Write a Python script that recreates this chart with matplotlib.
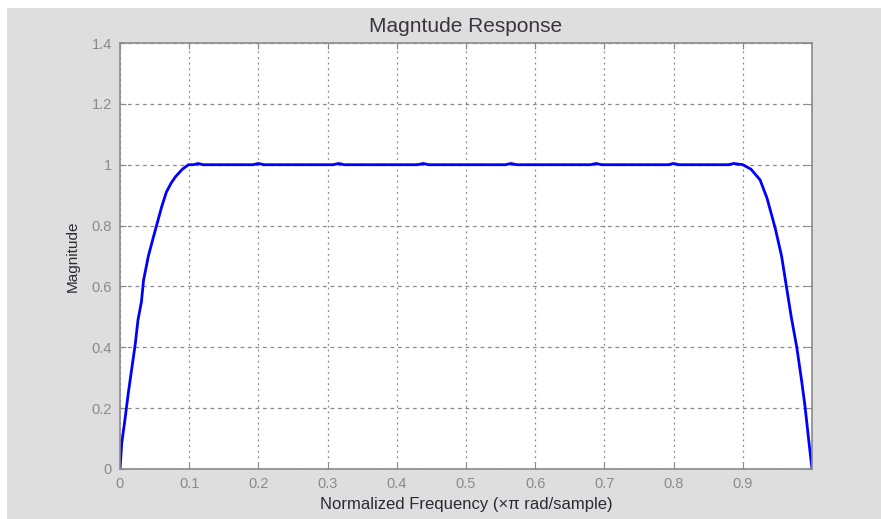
import matplotlib.pyplot as plt
from matplotlib.patches import Rectangle

# normalized frequency (x pi rad/sample) and magnitude
freq = [0.0, 0.0025, 0.007, 0.012, 0.017, 0.022, 0.026, 0.031, 0.034, 0.041,
        0.048, 0.054, 0.06, 0.067, 0.074, 0.08, 0.09, 0.099,
        0.106, 0.113, 0.12, 0.192, 0.2, 0.208, 0.308, 0.316, 0.324,
        0.43, 0.438, 0.446, 0.557, 0.565, 0.573, 0.68, 0.688, 0.696,
        0.792, 0.8, 0.808, 0.879, 0.887, 0.9,
        0.912, 0.925, 0.935, 0.947, 0.956, 0.963, 0.97, 0.978, 0.985,
        0.99, 0.995, 1.0]
mag = [0.0, 0.085, 0.16, 0.25, 0.33, 0.41, 0.49, 0.55, 0.62, 0.70,
       0.76, 0.81, 0.86, 0.91, 0.94, 0.96, 0.985, 1.0,
       1.0, 1.004, 1.0, 1.0, 1.004, 1.0, 1.0, 1.004, 1.0,
       1.0, 1.004, 1.0, 1.0, 1.004, 1.0, 1.0, 1.004, 1.0,
       1.0, 1.004, 1.0, 1.0, 1.004, 1.0,
       0.985, 0.95, 0.89, 0.79, 0.70, 0.60, 0.50, 0.40, 0.29,
       0.204, 0.10, 0.0]

xticks = [0, 0.1, 0.2, 0.3, 0.4, 0.5, 0.6, 0.7, 0.8, 0.9]
xticklabels = ["0", "0.1", "0.2", "0.3", "0.4", "0.5", "0.6", "0.7", "0.8", "0.9"]
yticks = [0, 0.2, 0.4, 0.6, 0.8, 1.0, 1.2, 1.4]
yticklabels = ["0", "0.2", "0.4", "0.6", "0.8", "1", "1.2", "1.4"]

plt.rcParams['font.family'] = ['Liberation Sans', 'DejaVu Sans']

W, H = 881, 519
fig = plt.figure(figsize=(W / 100, H / 100), dpi=100)
fig.patch.set_facecolor('white')
# grey panel, leaving a thin white strip on top and left
fig.patches.append(Rectangle((7 / W, 0), 1, 1 - 8 / H, transform=fig.transFigure,
                             facecolor='#dedede', edgecolor='none', zorder=-10))

ax = fig.add_axes([120 / W, (H - 469) / H, 692 / W, 426 / H])
ax.set_facecolor('white')
ax.plot(freq, mag, color='#0000ff', lw=2.0, solid_joinstyle='round')

ax.set_xlim(0, 1)
ax.set_ylim(0, 1.4)
ax.set_xticks(xticks)
ax.set_xticklabels(xticklabels)
ax.set_yticks(yticks)
ax.set_yticklabels(yticklabels)
ax.tick_params(direction='in', top=True, right=True, length=4, width=0.8,
               colors='#8a8a8a', labelsize=10.5, labelcolor='#8a8a8a', pad=6)

ax.xaxis.grid(True, color='#8a8a8a', linestyle=(0, (1.5, 3)), lw=0.9)
ax.yaxis.grid(True, color='#8a8a8a', linestyle=(0, (3, 3)), lw=0.9)
ax.set_axisbelow(True)
for sp in ax.spines.values():
    sp.set_color('#8a8a8a')
    sp.set_linewidth(1.2)

ax.set_title("Magntude Response", fontsize=15, color='#3a3340', pad=8)
ax.set_xlabel("Normalized Frequency (×π rad/sample)", fontsize=12, color='#2a2a35', labelpad=4)
ax.set_ylabel("Magnitude", fontsize=11, color='#2a2a35', labelpad=8)

fig.savefig("out.png", dpi=100)
